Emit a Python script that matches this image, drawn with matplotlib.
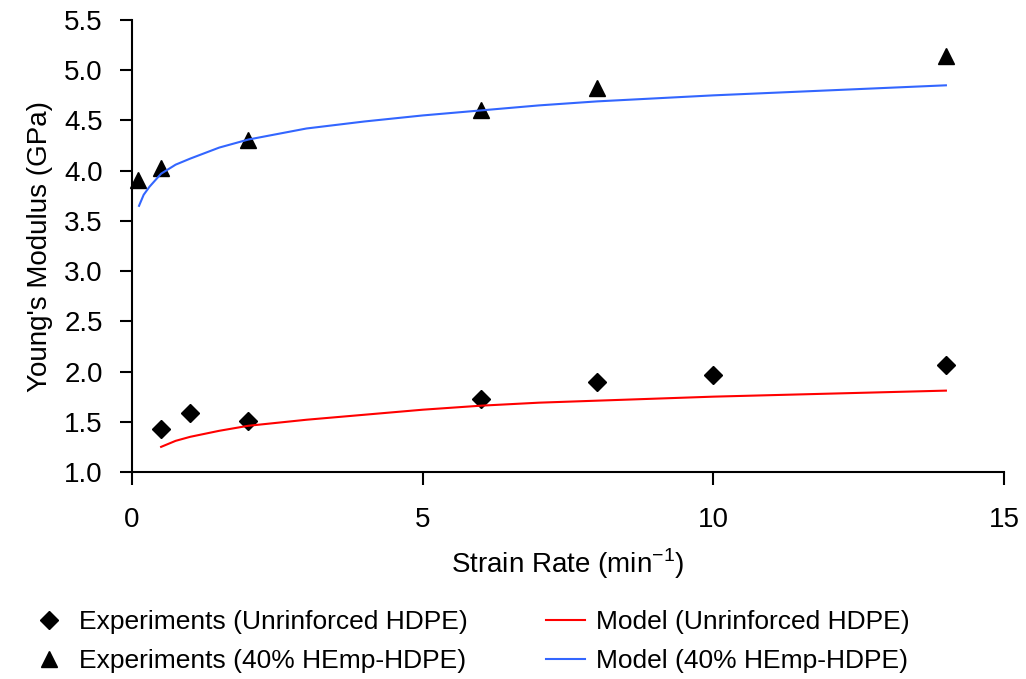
import matplotlib.pyplot as plt

# experimental points
exp_unr_x = [0.5, 1, 2, 6, 8, 10, 14]
exp_unr_y = [1.43, 1.59, 1.51, 1.73, 1.90, 1.97, 2.07]

exp_hemp_x = [0.1, 0.5, 2, 6, 8, 14]
exp_hemp_y = [3.91, 4.03, 4.31, 4.60, 4.82, 5.14]

# model curves
mod_unr_x = [0.5, 0.75, 1, 1.5, 2, 3, 4, 5, 6, 7, 8, 9, 10, 12, 14]
mod_unr_y = [1.25, 1.31, 1.35, 1.41, 1.46, 1.52, 1.57, 1.62, 1.66, 1.69, 1.71, 1.73, 1.75, 1.78, 1.81]

mod_hemp_x = [0.12, 0.2, 0.3, 0.5, 0.75, 1, 1.5, 2, 3, 4, 5, 6, 7, 8, 9, 10, 12, 14]
mod_hemp_y = [3.65, 3.76, 3.84, 3.97, 4.06, 4.12, 4.23, 4.31, 4.42, 4.49, 4.55, 4.60, 4.65, 4.69, 4.72, 4.75, 4.80, 4.85]

plt.rcParams['font.family'] = ['Liberation Sans', 'DejaVu Sans']

fig = plt.figure(figsize=(10.26, 6.79), dpi=100)
ax = fig.add_axes([0.1287, 0.3049, 0.8499, 0.6656])

ax.plot(exp_unr_x, exp_unr_y, 'D', color='black', markersize=9, linestyle='none',
        label='Experiments (Unrinforced HDPE)', clip_on=False)
ax.plot(exp_hemp_x, exp_hemp_y, '^', color='black', markersize=11, linestyle='none',
        label='Experiments (40% HEmp-HDPE)', clip_on=False)
ax.plot(mod_unr_x, mod_unr_y, color='#ff0000', linewidth=1.5, label='Model (Unrinforced HDPE)')
ax.plot(mod_hemp_x, mod_hemp_y, color='#3366ff', linewidth=1.5, label='Model (40% HEmp-HDPE)')

ax.set_xlim(0, 15)
ax.set_ylim(1.0, 5.5)
ax.set_xticks([0, 5, 10, 15])
ax.set_yticks([1.0, 1.5, 2.0, 2.5, 3.0, 3.5, 4.0, 4.5, 5.0, 5.5])
ax.set_yticklabels([f'{v:.1f}' for v in ax.get_yticks()])
ax.tick_params(axis='both', labelsize=20, direction='out', length=9, width=1.5)
ax.tick_params(axis='x', pad=16)
ax.tick_params(axis='y', pad=12)

for s in ['top', 'right']:
    ax.spines[s].set_visible(False)
for s in ['left', 'bottom']:
    ax.spines[s].set_linewidth(1.5)

ax.set_xlabel('Strain Rate (min$^{\\mathregular{-1}}$)', fontsize=20, labelpad=10)
ax.set_ylabel("Young's Modulus (GPa)", fontsize=20, labelpad=8)

fig.legend(loc='center left', bbox_to_anchor=(0.005, 0.0552), ncol=2, frameon=False,
           fontsize=19, handlelength=1.5, columnspacing=2.95, labelspacing=0.55,
           handletextpad=0.4)

fig.savefig('out.png', dpi=100)
